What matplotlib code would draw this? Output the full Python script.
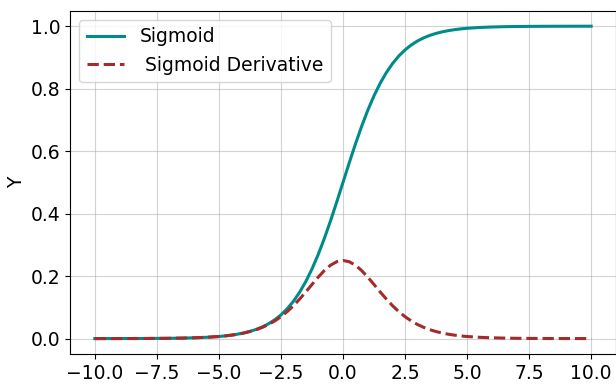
import matplotlib
matplotlib.use("Agg")
import matplotlib.pyplot as plt

x = [-10, -9, -8, -7.5, -7, -6.5, -6, -5.5, -5, -4.75, -4.5, -4.25, -4, -3.75,
     -3.5, -3.25, -3, -2.75, -2.5, -2.25, -2, -1.75, -1.5, -1.25, -1, -0.75,
     -0.5, -0.25, 0, 0.25, 0.5, 0.75, 1, 1.25, 1.5, 1.75, 2, 2.25, 2.5, 2.75,
     3, 3.25, 3.5, 3.75, 4, 4.25, 4.5, 4.75, 5, 5.5, 6, 6.5, 7, 7.5, 8, 9, 10]

sigmoid = [0.0000, 0.0001, 0.0003, 0.0006, 0.0009, 0.0015, 0.0025, 0.0041,
           0.0067, 0.0086, 0.0110, 0.0141, 0.0180, 0.0230, 0.0293, 0.0373,
           0.0474, 0.0601, 0.0759, 0.0953, 0.1192, 0.1481, 0.1824, 0.2227,
           0.2689, 0.3208, 0.3775, 0.4378, 0.5000, 0.5622, 0.6225, 0.6792,
           0.7311, 0.7773, 0.8176, 0.8519, 0.8808, 0.9047, 0.9241, 0.9399,
           0.9526, 0.9627, 0.9707, 0.9770, 0.9820, 0.9859, 0.9890, 0.9914,
           0.9933, 0.9959, 0.9975, 0.9985, 0.9991, 0.9994, 0.9997, 0.9999,
           1.0000]

derivative = [0.0000, 0.0001, 0.0003, 0.0006, 0.0009, 0.0015, 0.0025, 0.0041,
              0.0066, 0.0085, 0.0109, 0.0139, 0.0177, 0.0225, 0.0284, 0.0359,
              0.0452, 0.0565, 0.0701, 0.0862, 0.1050, 0.1262, 0.1491, 0.1731,
              0.1966, 0.2179, 0.2350, 0.2461, 0.2500, 0.2461, 0.2350, 0.2179,
              0.1966, 0.1731, 0.1491, 0.1262, 0.1050, 0.0862, 0.0701, 0.0565,
              0.0452, 0.0359, 0.0284, 0.0225, 0.0177, 0.0139, 0.0109, 0.0085,
              0.0066, 0.0041, 0.0025, 0.0015, 0.0009, 0.0006, 0.0003, 0.0001,
              0.0000]

fig = plt.figure(figsize=(6.16, 3.85), dpi=100)
ax = fig.add_axes([0.1136, 0.08, 0.8864, 0.8925])

ax.plot(x, sigmoid, color='#008B8B', linewidth=2.2, label='Sigmoid')
ax.plot(x, derivative, color='#A52A2A', linewidth=2.2, linestyle='--', label=' Sigmoid Derivative')

ax.set_xlabel('x', fontsize=13.5, labelpad=2)
ax.set_ylabel('Y', fontsize=13.5, labelpad=3)
ax.set_xticks([-10, -7.5, -5, -2.5, 0, 2.5, 5, 7.5, 10])
ax.set_yticks([0.0, 0.2, 0.4, 0.6, 0.8, 1.0])
ax.tick_params(labelsize=13.5)
ax.grid(True, alpha=0.55)
ax.legend(loc='upper left', fontsize=13.5)

fig.savefig('out.png', dpi=100)
